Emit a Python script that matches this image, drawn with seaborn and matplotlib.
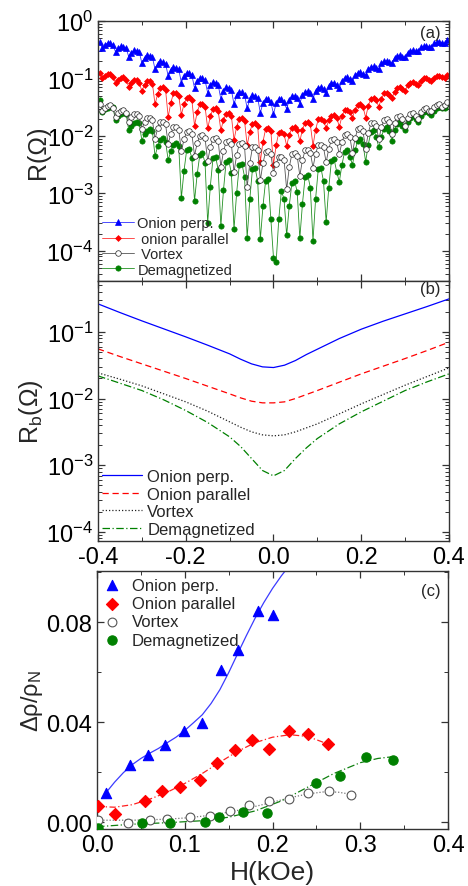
import numpy as np
import matplotlib
matplotlib.use('Agg')
import matplotlib.pyplot as plt
import seaborn as sns
from matplotlib.ticker import MultipleLocator, LogLocator, NullFormatter, FormatStrFormatter

sns.set_theme(style='ticks')
plt.rcParams['font.family'] = ['Liberation Sans', 'DejaVu Sans']
plt.rcParams['mathtext.fontset'] = 'custom'
plt.rcParams['mathtext.rm'] = 'Liberation Sans'
plt.rcParams['mathtext.it'] = 'Liberation Sans:italic'
plt.rcParams['mathtext.default'] = 'regular'
plt.rcParams['axes.unicode_minus'] = False

# ---------------- panel (a): R vs H, log10 values
h_a = [-0.396, -0.390, -0.384, -0.378, -0.372, -0.366, -0.360, -0.354, -0.348, -0.342,
       -0.336, -0.330, -0.324, -0.318, -0.312, -0.306, -0.300, -0.294, -0.288, -0.282,
       -0.276, -0.270, -0.264, -0.258, -0.252, -0.246, -0.240, -0.234, -0.228, -0.222,
       -0.216, -0.210, -0.204, -0.198, -0.192, -0.186, -0.180, -0.174, -0.168, -0.162,
       -0.156, -0.150, -0.144, -0.138, -0.132, -0.126, -0.120, -0.114, -0.108, -0.102,
       -0.096, -0.090, -0.084, -0.078, -0.072, -0.066, -0.060, -0.054, -0.048, -0.042,
       -0.036, -0.030, -0.024, -0.018, -0.012, -0.006, 0.000, 0.006, 0.012, 0.018,
       0.024, 0.030, 0.036, 0.042, 0.048, 0.054, 0.060, 0.066, 0.072, 0.078,
       0.084, 0.090, 0.096, 0.102, 0.108, 0.114, 0.120, 0.126, 0.132, 0.138,
       0.144, 0.150, 0.156, 0.162, 0.168, 0.174, 0.180, 0.186, 0.192, 0.198,
       0.204, 0.210, 0.216, 0.222, 0.228, 0.234, 0.240, 0.246, 0.252, 0.258,
       0.264, 0.270, 0.276, 0.282, 0.288, 0.294, 0.300, 0.306, 0.312, 0.318,
       0.324, 0.330, 0.336, 0.342, 0.348, 0.354, 0.360, 0.366, 0.372, 0.378,
       0.384, 0.390, 0.396]

log_perp = [-0.37,
            -0.47, -0.41, -0.38, -0.39, -0.41,
            -0.54, -0.47, -0.44, -0.45, -0.47,
            -0.62, -0.55, -0.51, -0.52, -0.54,
            -0.73, -0.64, -0.60, -0.61, -0.63,
            -0.84, -0.74, -0.70, -0.71, -0.74,
            -0.96, -0.85, -0.80, -0.81, -0.84,
            -1.07, -0.95, -0.90, -0.91, -0.94,
            -1.17, -1.04, -0.99, -1.00, -1.03,
            -1.25, -1.12, -1.06, -1.07, -1.11,
            -1.36, -1.21, -1.15, -1.16, -1.20,
            -1.45, -1.29, -1.23, -1.24, -1.28,
            -1.52, -1.36, -1.29, -1.30, -1.34,
            -1.60, -1.42, -1.35, -1.36, -1.41,
            -1.62, -1.43, -1.36, -1.36, -1.41,
            -1.53, -1.37, -1.31, -1.30, -1.34,
            -1.44, -1.28, -1.23, -1.22, -1.26,
            -1.36, -1.21, -1.16, -1.15, -1.19,
            -1.26, -1.13, -1.08, -1.07, -1.11,
            -1.16, -1.04, -0.99, -0.98, -1.01,
            -1.05, -0.94, -0.90, -0.89, -0.92,
            -0.94, -0.84, -0.80, -0.79, -0.82,
            -0.83, -0.73, -0.70, -0.69, -0.72,
            -0.73, -0.64, -0.61, -0.60, -0.63,
            -0.62, -0.55, -0.52, -0.51, -0.53,
            -0.53, -0.46, -0.44, -0.43, -0.45,
            -0.45, -0.39, -0.37, -0.36, -0.38,
            -0.39, -0.33]

log_para = [-0.90,
            -1.00, -0.95, -0.93, -0.92, -0.97,
            -1.08, -1.02, -0.99, -0.98, -1.03,
            -1.14, -1.07, -1.03, -1.02, -1.07,
            -1.22, -1.11, -1.05, -1.04, -1.09,
            -1.45, -1.27, -1.16, -1.15, -1.20,
            -1.67, -1.42, -1.26, -1.25, -1.30,
            -1.63, -1.45, -1.34, -1.33, -1.38,
            -1.82, -1.59, -1.45, -1.44, -1.49,
            -1.87, -1.66, -1.53, -1.52, -1.57,
            -1.90, -1.72, -1.61, -1.60, -1.65,
            -2.07, -1.84, -1.70, -1.69, -1.74,
            -2.16, -1.93, -1.79, -1.78, -1.83,
            -2.45, -2.10, -1.88, -1.87, -1.92,
            -2.50, -2.16, -1.94, -1.93, -1.97,
            -2.17, -1.98, -1.86, -1.85, -1.89,
            -2.09, -1.89, -1.77, -1.76, -1.80,
            -2.17, -1.89, -1.71, -1.70, -1.74,
            -1.86, -1.73, -1.65, -1.64, -1.68,
            -1.84, -1.66, -1.55, -1.54, -1.58,
            -1.68, -1.54, -1.46, -1.45, -1.49,
            -1.68, -1.48, -1.35, -1.34, -1.38,
            -1.49, -1.35, -1.26, -1.25, -1.29,
            -1.34, -1.23, -1.16, -1.15, -1.19,
            -1.21, -1.12, -1.07, -1.06, -1.09,
            -1.11, -1.04, -1.00, -0.99, -1.02,
            -1.05, -0.99, -0.96, -0.95, -0.97,
            -0.99, -0.94]

log_vortex = [-1.45,
              -1.57, -1.51, -1.48, -1.47, -1.52,
              -1.67, -1.60, -1.56, -1.55, -1.60,
              -1.76, -1.67, -1.62, -1.61, -1.66,
              -1.88, -1.76, -1.69, -1.68, -1.73,
              -2.05, -1.87, -1.76, -1.75, -1.80,
              -2.14, -1.96, -1.85, -1.84, -1.89,
              -2.27, -2.06, -1.93, -1.92, -1.97,
              -2.34, -2.13, -2.00, -1.99, -2.04,
              -2.44, -2.20, -2.05, -2.04, -2.09,
              -2.54, -2.27, -2.10, -2.09, -2.14,
              -2.63, -2.33, -2.14, -2.13, -2.18,
              -2.89, -2.47, -2.20, -2.19, -2.24,
              -2.77, -2.47, -2.28, -2.27, -2.32,
              -2.64, -2.48, -2.37, -2.36, -2.41,
              -2.93, -2.54, -2.31, -2.30, -2.35,
              -2.69, -2.42, -2.25, -2.24, -2.29,
              -2.55, -2.31, -2.16, -2.15, -2.20,
              -2.46, -2.22, -2.07, -2.06, -2.11,
              -2.32, -2.11, -1.98, -1.97, -2.02,
              -2.29, -2.04, -1.88, -1.87, -1.92,
              -2.22, -1.95, -1.78, -1.77, -1.82,
              -2.06, -1.85, -1.72, -1.71, -1.76,
              -1.96, -1.78, -1.67, -1.66, -1.71,
              -1.82, -1.69, -1.61, -1.60, -1.65,
              -1.70, -1.59, -1.53, -1.52, -1.57,
              -1.57, -1.50, -1.46, -1.45, -1.49,
              -1.47, -1.41]

log_demag = [-1.38,
             -1.58, -1.53, -1.51, -1.48, -1.50,
             -1.73, -1.65, -1.61, -1.58, -1.61,
             -1.90, -1.82, -1.78, -1.75, -1.78,
             -2.08, -1.97, -1.91, -1.88, -1.92,
             -2.35, -2.18, -2.07, -2.04, -2.10,
             -2.42, -2.26, -2.15, -2.12, -2.18,
             -3.08, -2.61, -2.25, -2.22, -2.39,
             -3.13, -2.67, -2.33, -2.30, -2.47,
             -3.51, -2.88, -2.39, -2.36, -2.59,
             -3.57, -2.94, -2.45, -2.42, -2.65,
             -3.62, -2.99, -2.51, -2.48, -2.71,
             -3.77, -3.10, -2.58, -2.55, -2.79,
             -3.80, -3.22, -2.78, -2.75, -3.45,
             -4.12, -4.20, -3.45, -2.95, -3.10,
             -3.73, -3.21, -2.81, -2.78, -2.97,
             -3.78, -3.18, -2.71, -2.68, -2.90,
             -3.83, -3.09, -2.58, -2.55, -2.79,
             -3.50, -2.90, -2.43, -2.40, -2.62,
             -2.80, -2.50, -2.28, -2.25, -2.36,
             -2.50, -2.25, -2.08, -2.05, -2.14,
             -2.45, -2.15, -1.93, -1.90, -2.01,
             -2.20, -2.01, -1.88, -1.85, -1.92,
             -2.08, -1.90, -1.79, -1.76, -1.82,
             -1.90, -1.76, -1.68, -1.65, -1.70,
             -1.76, -1.65, -1.59, -1.56, -1.60,
             -1.64, -1.56, -1.52, -1.49, -1.52,
             -1.51, -1.45]

# ---------------- panel (b): background resistance Rb (log10)
h_b = [-0.4, -0.35, -0.3, -0.25, -0.2, -0.15, -0.1, -0.075, -0.05, -0.025, 0.0,
       0.025, 0.05, 0.075, 0.1, 0.15, 0.2, 0.25, 0.3, 0.35, 0.4]
logb_perp = [-0.58, -0.71, -0.835, -0.955, -1.075, -1.20, -1.33, -1.41, -1.48, -1.525, -1.535,
             -1.50, -1.43, -1.34, -1.26, -1.10, -0.96, -0.84, -0.73, -0.62, -0.505]
logb_para = [-1.255, -1.37, -1.48, -1.59, -1.70, -1.815, -1.93, -1.99, -2.04, -2.065, -2.065,
             -2.05, -2.00, -1.94, -1.88, -1.755, -1.63, -1.515, -1.40, -1.28, -1.155]
logb_vortex = [-1.615, -1.71, -1.81, -1.93, -2.05, -2.19, -2.35, -2.43, -2.50, -2.545, -2.56,
               -2.545, -2.50, -2.44, -2.38, -2.23, -2.08, -1.94, -1.80, -1.67, -1.54]
logb_demag = [-1.66, -1.77, -1.88, -2.02, -2.18, -2.36, -2.575, -2.72, -2.90, -3.08, -3.16,
              -3.08, -2.90, -2.74, -2.60, -2.38, -2.20, -2.04, -1.88, -1.75, -1.63]

# ---------------- panel (c): delta rho / rho_N
hc_perp = [0.010, 0.038, 0.058, 0.078, 0.099, 0.120, 0.141, 0.161, 0.183, 0.200]
dr_perp = [0.0117, 0.0229, 0.0269, 0.0310, 0.0365, 0.0397, 0.0610, 0.0688, 0.0844, 0.0830]
hc_para = [0.001, 0.020, 0.055, 0.074, 0.094, 0.117, 0.137, 0.157, 0.177, 0.196, 0.219, 0.240, 0.263]
dr_para = [0.0064, 0.0033, 0.0085, 0.0124, 0.0141, 0.0169, 0.0238, 0.0287, 0.0329, 0.0292,
           0.0363, 0.0351, 0.0313]
hc_vortex = [0.001, 0.035, 0.060, 0.080, 0.106, 0.129, 0.152, 0.173, 0.196, 0.219, 0.240, 0.264, 0.289]
dr_vortex = [0.0007, -0.0003, 0.0009, 0.0013, 0.0020, 0.0025, 0.0044, 0.0069, 0.0084, 0.0093,
             0.0118, 0.0125, 0.0108]
hc_demag = [0.001, 0.051, 0.083, 0.123, 0.139, 0.166, 0.194, 0.249, 0.277, 0.307, 0.337]
dr_demag = [-0.0022, -0.0004, -0.0004, 0.0001, 0.0020, 0.0040, 0.0037, 0.0157, 0.0185, 0.0262, 0.0250]

fit_h_perp = [0.01, 0.02, 0.03, 0.04, 0.05, 0.06, 0.07, 0.08, 0.09, 0.10, 0.11, 0.12,
              0.13, 0.14, 0.15, 0.16, 0.17, 0.18, 0.19, 0.20, 0.21, 0.22]
fit_perp = [0.0117, 0.0160, 0.0198, 0.0230, 0.0255, 0.0276, 0.0295, 0.0318, 0.0340, 0.0367, 0.0398,
            0.0430, 0.0475, 0.0530, 0.0598, 0.0672, 0.0745, 0.0815, 0.0878, 0.0935, 0.0985, 0.1030]
fit_h_para = [0.0, 0.02, 0.04, 0.06, 0.08, 0.10, 0.12, 0.14, 0.16, 0.18, 0.20, 0.22, 0.24, 0.263]
fit_para = [0.0063, 0.0060, 0.0070, 0.0092, 0.0120, 0.0155, 0.0195, 0.0240, 0.0283, 0.0318,
            0.0340, 0.0350, 0.0343, 0.0313]
fit_h_vortex = [0.0, 0.04, 0.08, 0.10, 0.12, 0.14, 0.16, 0.18, 0.20, 0.22, 0.24, 0.26, 0.275, 0.289]
fit_vortex = [0.0008, 0.0008, 0.0012, 0.0017, 0.0024, 0.0034, 0.0047, 0.0063, 0.0080, 0.0098,
              0.0113, 0.0122, 0.0120, 0.0112]
fit_h_demag = [0.0, 0.04, 0.08, 0.12, 0.15, 0.18, 0.21, 0.24, 0.27, 0.30, 0.32, 0.337]
fit_demag = [-0.0018, -0.0008, -0.0002, 0.0006, 0.0020, 0.0045, 0.0085, 0.0140, 0.0195, 0.0238,
             0.0255, 0.0262]

labels_a = ['Onion perp.', ' onion parallel', ' Vortex', 'Demagnetized']
labels_bc = ['Onion perp.', 'Onion parallel', 'Vortex', 'Demagnetized']
colors = ['#0000ff', '#ff0000', '#222222', '#008000']

fig = plt.figure(figsize=(4.68, 8.87), dpi=100)
ax_a = fig.add_axes([0.2094, 0.6821, 0.75, 0.2931])
ax_b = fig.add_axes([0.2094, 0.3890, 0.75, 0.2931])
ax_c = fig.add_axes([0.2073, 0.0643, 0.75, 0.2909])


def style_axes(ax):
    for s in ax.spines.values():
        s.set_color('#333333')
        s.set_linewidth(1.0)
    ax.tick_params(which='both', direction='in', top=True, right=True, colors='#333333',
                   labelcolor='black', labelsize=17)
    ax.tick_params(which='major', length=5, width=0.9)
    ax.tick_params(which='minor', length=3, width=0.7)


def log_ticks(ax):
    ax.set_yscale('log')
    ax.yaxis.set_major_locator(LogLocator(base=10, numticks=12))
    ax.yaxis.set_minor_locator(LogLocator(base=10, subs=np.arange(2, 10), numticks=30))
    ax.yaxis.set_minor_formatter(NullFormatter())


# ---- (a)
ha = np.array(h_a)
markers_a = ['^', 'D', 'o', 'o']
sizes_a = [4.0, 3.0, 4.0, 3.8]
line_cols = ['#3030ff', '#ff3030', '#555555', '#239023']
series_a = [log_perp, log_para, log_vortex, log_demag]
for k in [0, 1, 3, 2]:
    face = 'white' if k == 2 else colors[k]
    sns.lineplot(x=ha, y=10 ** np.array(series_a[k]), ax=ax_a, color=line_cols[k], lw=0.6,
                 marker=markers_a[k], markersize=sizes_a[k], markerfacecolor=face,
                 markeredgecolor=colors[k], markeredgewidth=0.5, label=labels_a[k])
h_list, l_list = ax_a.get_legend_handles_labels()
order = [l_list.index(t) for t in labels_a]
log_ticks(ax_a)
ax_a.set_ylim(3.0e-5, 1.0)
ax_a.set_xlim(-0.4, 0.4)
ax_a.xaxis.set_major_locator(MultipleLocator(0.2))
ax_a.xaxis.set_minor_locator(MultipleLocator(0.1))
style_axes(ax_a)
ax_a.tick_params(labelbottom=False)
ax_a.set_ylabel('R(Ω)', fontsize=18)
ax_a.yaxis.set_label_coords(-0.137, 0.5)
ax_a.legend([h_list[i] for i in order], labels_a, loc='lower left', frameon=False, fontsize=10.5,
            handlelength=2.2, handletextpad=0.2, labelspacing=0.1, borderaxespad=0.1,
            borderpad=0.2)
ax_a.text(0.946, 0.955, '(a)', transform=ax_a.transAxes, ha='center', va='center', fontsize=12)

# ---- (b)
hb = np.array(h_b)
styles_b = ['-', (0, (5, 3)), (0, (1, 1.6)), (0, (6, 2, 1, 2))]
series_b = [logb_perp, logb_para, logb_vortex, logb_demag]
for k in range(4):
    sns.lineplot(x=hb, y=10 ** np.array(series_b[k]), ax=ax_b, color=colors[k], lw=0.9,
                 linestyle=styles_b[k], label=labels_bc[k])
log_ticks(ax_b)
ax_b.set_ylim(7.3e-5, 0.58)
ax_b.set_xlim(-0.4, 0.4)
ax_b.xaxis.set_major_locator(MultipleLocator(0.2))
ax_b.xaxis.set_minor_locator(MultipleLocator(0.1))
ax_b.xaxis.set_major_formatter(FormatStrFormatter('%.1f'))
style_axes(ax_b)
ax_b.set_xlabel('')
ax_b.set_ylabel(r'R$_\mathregular{b}$(Ω)', fontsize=18)
ax_b.yaxis.set_label_coords(-0.151, 0.5)
ax_b.legend(loc='lower left', frameon=False, fontsize=12, handlelength=2.4, handletextpad=0.3,
            labelspacing=0.15, borderaxespad=0.05, borderpad=0.2)
ax_b.text(0.946, 0.972, '(b)', transform=ax_b.transAxes, ha='center', va='center', fontsize=12)

# ---- (c)
fits = [(fit_h_perp, fit_perp), (fit_h_para, fit_para), (fit_h_vortex, fit_vortex),
        (fit_h_demag, fit_demag)]
styles_c = ['-', (0, (5, 2, 1, 2)), (0, (1, 1.5)), (0, (6, 2, 1, 2))]
fit_colors = ['#3b3bff', '#ff2020', '#777777', '#108010']
for k in range(4):
    sns.lineplot(x=fits[k][0], y=fits[k][1], ax=ax_c, color=fit_colors[k], lw=0.9,
                 linestyle=styles_c[k], legend=False, zorder=1)
pts = [(hc_perp, dr_perp, '^', 55), (hc_para, dr_para, 'D', 38), (hc_vortex, dr_vortex, 'o', 40),
       (hc_demag, dr_demag, 'o', 45)]
for k in range(4):
    face = 'white' if k == 2 else colors[k]
    edge = '#555555' if k == 2 else colors[k]
    sns.scatterplot(x=pts[k][0], y=pts[k][1], ax=ax_c, marker=pts[k][2], s=pts[k][3],
                    color=face, edgecolor=edge, linewidth=0.8, label=labels_bc[k], zorder=3)
ax_c.set_xlim(0.0, 0.4)
ax_c.set_ylim(-0.0027, 0.1005)
ax_c.xaxis.set_major_locator(MultipleLocator(0.1))
ax_c.xaxis.set_minor_locator(MultipleLocator(0.05))
ax_c.xaxis.set_major_formatter(FormatStrFormatter('%.1f'))
ax_c.yaxis.set_major_locator(MultipleLocator(0.04))
ax_c.yaxis.set_minor_locator(MultipleLocator(0.02))
ax_c.yaxis.set_major_formatter(FormatStrFormatter('%.2f'))
style_axes(ax_c)
ax_c.set_xlabel('H(kOe)', fontsize=19)
ax_c.xaxis.set_label_coords(0.5, -0.12)
ax_c.set_ylabel(r'Δρ/ρ$_\mathregular{N}$', fontsize=17)
ax_c.yaxis.set_label_coords(-0.148, 0.5)
ax_c.legend(loc='upper left', frameon=False, fontsize=12, handlelength=1.0, handletextpad=0.7,
            labelspacing=0.2, borderaxespad=0.1, borderpad=0.3)
ax_c.text(0.95, 0.923, '(c)', transform=ax_c.transAxes, ha='center', va='center', fontsize=12)

fig.savefig('out.png', dpi=100)
